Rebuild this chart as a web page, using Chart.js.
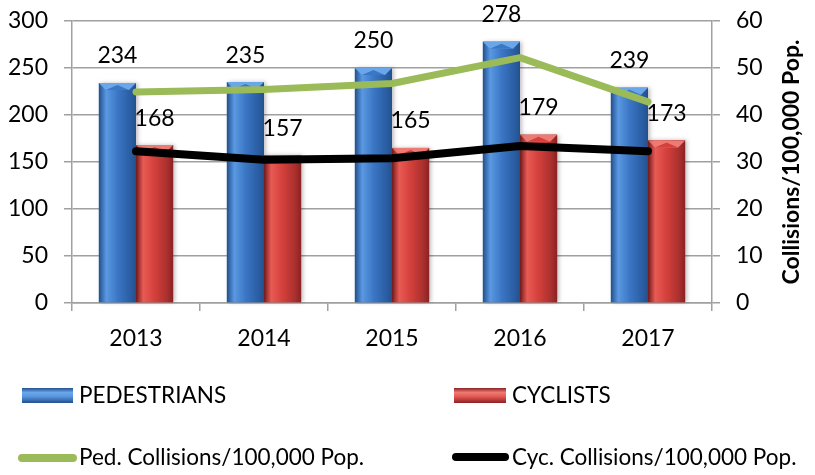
<!DOCTYPE html>
<html>
<head>
<meta charset="utf-8">
<script src="https://cdn.jsdelivr.net/npm/chart.js@4/dist/chart.umd.min.js"></script>
<style>
  html, body { margin: 0; padding: 0; background: #fff; }
  #wrap { width: 815px; height: 475px; }
</style>
</head>
<body>
<div id="wrap"><canvas id="chart" width="815" height="475"></canvas></div>
<script>
// data
var years = ['2013', '2014', '2015', '2016', '2017'];
var pedestrians = [234, 235, 250, 278, 229];
var pedLabels = ['234', '235', '250', '278', '239'];
var cyclists = [168, 157, 165, 179, 173];
var cycLabels = ['168', '157', '165', '179', '173'];
var pedRate = [44.9, 45.4, 46.7, 52.2, 42.8];
var cycRate = [32.3, 30.5, 30.8, 33.4, 32.3];
var leftTicks = [0, 50, 100, 150, 200, 250, 300];
var rightTicks = [0, 10, 20, 30, 40, 50, 60];
var rightTitle = 'Collisions/100,000 Pop.';

var FONT = 'Lato';
var blue = { dark: '#21508d', light: '#5a98e2', main: '#3b77c5', right: '#2a5da2', top: '#6aa6ea' };
var red = { dark: '#8a2222', light: '#e85a55', main: '#d4403c', right: '#a92f2d', top: '#ee7a74' };

function draw3DBar(ctx, x0, x1, top, bottom, c) {
  var w = x1 - x0;
  ctx.save();
  ctx.shadowColor = 'rgba(0,0,0,0.25)';
  ctx.shadowBlur = 4;
  ctx.shadowOffsetX = 2;
  var g = ctx.createLinearGradient(x0, 0, x1, 0);
  g.addColorStop(0, c.dark);
  g.addColorStop(0.2, c.light);
  g.addColorStop(0.5, c.main);
  g.addColorStop(0.85, c.right);
  g.addColorStop(1, c.dark);
  ctx.fillStyle = g;
  ctx.fillRect(x0, top, w, bottom - top);
  ctx.restore();
  // top bevel
  var b = Math.min(7, (bottom - top) / 2);
  ctx.save();
  ctx.fillStyle = c.top;
  ctx.beginPath();
  ctx.moveTo(x0, top);
  ctx.lineTo(x1, top);
  ctx.lineTo(x1 - b, top + b);
  ctx.lineTo(x0 + b, top + b);
  ctx.closePath();
  ctx.fill();
  ctx.fillStyle = c.main;
  ctx.beginPath();
  ctx.moveTo(x0 + b, top + b);
  ctx.lineTo(x0 + w / 2, top + 2);
  ctx.lineTo(x1 - b, top + b);
  ctx.closePath();
  ctx.fill();
  ctx.restore();
}

function drawLegendBox(ctx, x, y, w, h, c) {
  ctx.save();
  var g = ctx.createLinearGradient(0, y, 0, y + h);
  g.addColorStop(0, c.dark);
  g.addColorStop(0.3, c.top);
  g.addColorStop(0.55, c.light);
  g.addColorStop(1, c.dark);
  ctx.fillStyle = g;
  ctx.fillRect(x, y, w, h);
  ctx.restore();
}

var barStyle = [blue, red];
var barLabels = [pedLabels, cycLabels];

var fancyBars = {
  id: 'fancyBars',
  afterDatasetDraw: function (chart, args) {
    if (args.index > 1) return;
    var ctx = chart.ctx;
    args.meta.data.forEach(function (bar) {
      draw3DBar(ctx, bar.x - bar.width / 2, bar.x + bar.width / 2, bar.y, bar.base, barStyle[args.index]);
    });
  },
  afterDatasetsDraw: function (chart) {
    var ctx = chart.ctx;
    ctx.save();
    ctx.font = '23px ' + FONT;
    ctx.fillStyle = '#000';
    ctx.textAlign = 'center';
    ctx.textBaseline = 'middle';
    [0, 1].forEach(function (i) {
      chart.getDatasetMeta(i).data.forEach(function (bar, j) {
        ctx.fillText(barLabels[i][j], bar.x, bar.y - 27);
      });
    });
    ctx.restore();
  },
  afterDraw: function (chart) {
    var ctx = chart.ctx;
    var ds = chart.data.datasets;
    ctx.save();
    // right axis title, reading upward
    ctx.font = 'bold 23px ' + FONT;
    ctx.fillStyle = '#000';
    ctx.textAlign = 'center';
    ctx.textBaseline = 'middle';
    ctx.translate(792, (chart.chartArea.top + chart.chartArea.bottom) / 2);
    ctx.rotate(-Math.PI / 2);
    ctx.fillText(rightTitle, 0, 0);
    ctx.restore();

    // legend
    ctx.save();
    ctx.font = '22.5px ' + FONT;
    ctx.fillStyle = '#000';
    ctx.textBaseline = 'middle';
    ctx.textAlign = 'left';
    drawLegendBox(ctx, 22, 388, 51, 15, blue);
    ctx.fillText(ds[0].label, 79, 396);
    drawLegendBox(ctx, 454, 388, 52, 15, red);
    ctx.fillText(ds[1].label, 512, 396);
    ctx.lineCap = 'round';
    ctx.lineWidth = 8;
    ctx.strokeStyle = ds[2].borderColor;
    ctx.beginPath(); ctx.moveTo(22, 458); ctx.lineTo(73, 458); ctx.stroke();
    ctx.fillStyle = '#000';
    ctx.fillText(ds[2].label, 79, 458);
    ctx.strokeStyle = ds[3].borderColor;
    ctx.beginPath(); ctx.moveTo(456, 457); ctx.lineTo(505, 457); ctx.stroke();
    ctx.fillText(ds[3].label, 512, 458);
    ctx.restore();
  }
};

var grid = '#a0a0a0';
var tickFont = { family: FONT, size: 23 };

function fixY(width) {
  return function (s) {
    s.width = width;
    s.paddingTop = 0;
    s.paddingBottom = 0;
  };
}

new Chart(document.getElementById('chart'), {
  type: 'bar',
  data: {
    labels: years,
    datasets: [
      { label: 'PEDESTRIANS', data: pedestrians, backgroundColor: blue.main, yAxisID: 'y', order: 2 },
      { label: 'CYCLISTS', data: cyclists, backgroundColor: red.main, yAxisID: 'y', order: 2 },
      { type: 'line', label: 'Ped. Collisions/100,000 Pop.', data: pedRate, borderColor: '#9bbb59', borderWidth: 7,
        borderCapStyle: 'round', borderJoinStyle: 'round', pointRadius: 0, tension: 0, yAxisID: 'y1', order: 1 },
      { type: 'line', label: 'Cyc. Collisions/100,000 Pop.', data: cycRate, borderColor: '#000000', borderWidth: 8,
        borderCapStyle: 'round', borderJoinStyle: 'round', pointRadius: 0, tension: 0, yAxisID: 'y1', order: 1 }
    ]
  },
  options: {
    responsive: false,
    animation: false,
    layout: { padding: { top: 21, bottom: 112, left: 0, right: 0 } },
    datasets: { bar: { categoryPercentage: 0.58, barPercentage: 1 } },
    plugins: {
      legend: { display: false },
      tooltip: { enabled: false }
    },
    scales: {
      x: {
        grid: { drawOnChartArea: false, drawTicks: true, tickLength: 8, color: grid, lineWidth: 1.5 },
        border: { color: grid, width: 1.5 },
        ticks: { font: tickFont, color: '#000', padding: 14 },
        afterFit: function (s) { s.height = 60; s.paddingLeft = 0; s.paddingRight = 0; }
      },
      y: {
        position: 'left',
        min: 0,
        max: 300,
        afterBuildTicks: function (s) { s.ticks = leftTicks.map(function (v) { return { value: v }; }); },
        grid: { color: grid, lineWidth: 1.5, tickLength: 8 },
        border: { color: grid, width: 1.5 },
        ticks: { font: tickFont, color: '#000', padding: 16 },
        afterFit: fixY(72)
      },
      y1: {
        position: 'right',
        min: 0,
        max: 60,
        afterBuildTicks: function (s) { s.ticks = rightTicks.map(function (v) { return { value: v }; }); },
        grid: { drawOnChartArea: false, color: grid, lineWidth: 1.5, tickLength: 8 },
        border: { color: grid, width: 1.5 },
        ticks: { font: tickFont, color: '#000', padding: 16 },
        afterFit: fixY(103)
      }
    }
  },
  plugins: [fancyBars]
});
</script>
</body>
</html>
